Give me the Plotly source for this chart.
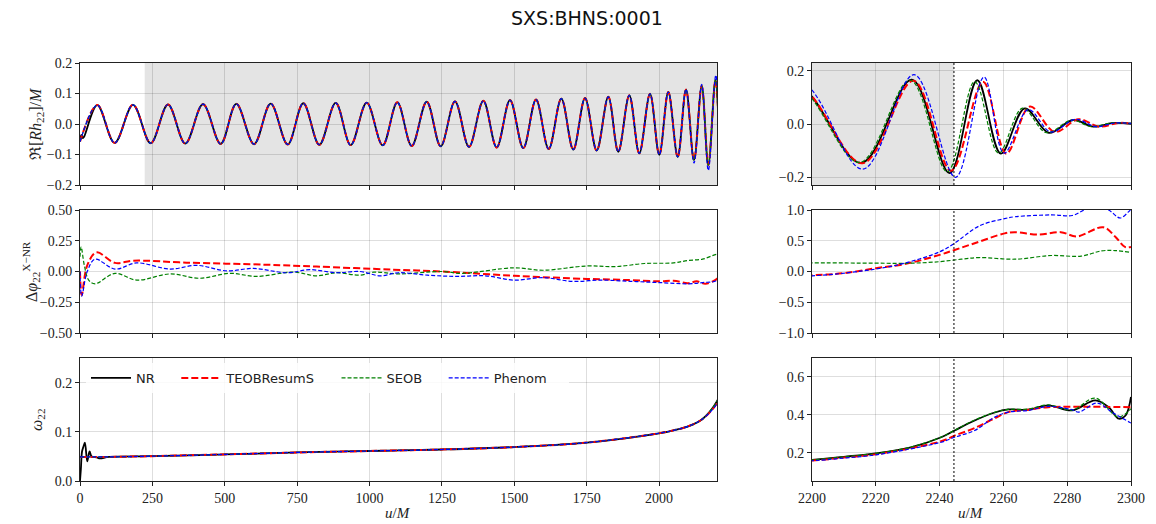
import plotly.graph_objects as go
from plotly.subplots import make_subplots

# ---------------- data ----------------
models = ["NR", "TEOBResumS", "SEOB", "Phenom"]
colors = ["black", "#ff0000", "#008000", "#0000ff"]

# inspiral waveform extrema (u/M, Re[R h22]/M), shared by all models
t_insp = [59.7, 119.8, 183.0, 244.2, 303.9, 363.7, 424.8, 485.9, 539.8, 601.0,
          658.6, 717.3, 771.2, 826.5, 883.1, 934.9, 990.2, 1045.4, 1095.9, 1145.6,
          1197.4, 1245.7, 1295.1, 1343.5, 1392.9, 1439.1, 1485.1, 1531.0, 1574.9, 1618.7,
          1662.3, 1703.7, 1744.2, 1784.5, 1824.6, 1859.1, 1897.1, 1931.6, 1968.6, 2000.7,
          2031.8, 2064.3, 2093.0, 2120.6, 2147.2, 2170.0]
h_insp = [0.062, -0.062, 0.063, -0.063, 0.064, -0.064, 0.065, -0.065, 0.066, -0.066,
          0.067, -0.067, 0.068, -0.068, 0.069, -0.069, 0.070, -0.070, 0.071, -0.072,
          0.073, -0.073, 0.074, -0.075, 0.076, -0.077, 0.078, -0.079, 0.080, -0.082,
          0.083, -0.084, 0.085, -0.087, 0.089, -0.091, 0.094, -0.096, 0.099, -0.101,
          0.105, -0.108, 0.113, -0.118, 0.125, -0.135]
h_insp_phenom = h_insp[:-4] + [0.114, -0.128, 0.130, -0.152]

# start of each waveform
t_start_nr = [0, 5, 10, 15]
h_start_nr = [-0.052, -0.036, -0.046, -0.040]
t_start_model = [0]
h_start_model = [-0.058]

# merger-ringdown extrema
t_mr = {
    "NR":         [2195, 2215.4, 2231.3, 2243.1, 2251.8, 2259.2, 2266.7, 2274.2, 2281.9, 2288.2, 2294.5, 2300],
    "TEOBResumS": [2195, 2215.8, 2231.8, 2243.6, 2253.6, 2260.9, 2268.3, 2276.1, 2283.5, 2290.0, 2296.0, 2300],
    "SEOB":       [2194.5, 2214.9, 2230.8, 2242.4, 2251.0, 2258.5, 2266.0, 2273.5, 2281.5, 2287.5, 2294.0, 2300],
    "Phenom":     [2196, 2215.9, 2232.0, 2245.0, 2253.9, 2260.2, 2267.8, 2274.9, 2282.5, 2289.0, 2295.0, 2300],
}
h_mr = {
    "NR":         [0.145, -0.147, 0.167, -0.185, 0.165, -0.112, 0.059, -0.033, 0.015, -0.010, 0.004, 0.001],
    "TEOBResumS": [0.145, -0.148, 0.163, -0.176, 0.159, -0.112, 0.066, -0.030, 0.018, -0.010, 0.004, 0.002],
    "SEOB":       [0.145, -0.145, 0.165, -0.180, 0.160, -0.110, 0.060, -0.033, 0.015, -0.010, 0.004, 0.002],
    "Phenom":     [0.160, -0.170, 0.186, -0.201, 0.177, -0.110, 0.054, -0.030, 0.018, -0.010, 0.004, 0.002],
}

# phase differences  Delta phi_22^{X-NR}
t_dphi_teob = [0, 6, 25, 57, 121, 184, 368, 645, 817, 1081, 1250, 1500, 1750, 1900, 2000, 2050,
               2100, 2130, 2160, 2200, 2210, 2220, 2229, 2240, 2244.7, 2251, 2260.4, 2263.5, 2271,
               2278, 2283, 2291.3, 2295, 2298.1, 2300]
dphi_teob = [0.0, -0.19, 0.05, 0.155, 0.07, 0.088, 0.072, 0.055, 0.04, 0.015, 0.0, -0.035, -0.06,
             -0.07, -0.08, -0.075, -0.095, -0.08, -0.1, -0.06, -0.027, 0.054, 0.12, 0.27, 0.35,
             0.46, 0.62, 0.64, 0.60, 0.64, 0.57, 0.72, 0.57, 0.40, 0.40]
t_dphi_seob = [0, 4, 15, 30, 52, 121, 196, 311, 414, 518, 610, 737, 817, 886, 967, 1015, 1100,
               1250, 1320, 1500, 1600, 1750, 1850, 1950, 2050, 2100, 2150, 2200, 2220, 2231, 2240,
               2246.8, 2252.4, 2263.6, 2275, 2284.4, 2290.7, 2295, 2300]
dphi_seob = [0.12, 0.2, 0.05, -0.07, -0.1, -0.015, -0.07, -0.02, -0.055, -0.015, -0.04, -0.005,
             -0.035, -0.01, -0.03, -0.005, -0.02, 0.0, -0.015, 0.03, 0.01, 0.045, 0.04, 0.065,
             0.07, 0.09, 0.1, 0.14, 0.135, 0.135, 0.16, 0.2, 0.227, 0.2, 0.26, 0.25, 0.335,
             0.34, 0.31]
t_dphi_phenom = [0, 6, 25, 52, 121, 196, 311, 403, 507, 599, 714, 794, 886, 967, 1036, 1100, 1200,
                 1300, 1400, 1500, 1600, 1700, 1800, 1900, 2000, 2100, 2150, 2200, 2220, 2229,
                 2240, 2244.7, 2252.4, 2260.4, 2263.6, 2275, 2281.6, 2285.3, 2289, 2293, 2296.6,
                 2299.2, 2300]
dphi_phenom = [0.0, -0.2, 0.0, 0.1, 0.02, 0.07, 0.02, 0.05, 0.005, 0.025, -0.01, 0.015, -0.01,
               0.0, -0.035, -0.01, -0.03, -0.04, -0.035, -0.07, -0.05, -0.08, -0.07, -0.08, -0.09,
               -0.1, -0.09, -0.07, 0.04, 0.135, 0.32, 0.46, 0.74, 0.86, 0.89, 0.92, 0.91, 1.0,
               1.07, 1.0, 0.87, 0.97, 1.01]

# frequency omega_22
t_om_insp = [100, 250, 500, 750, 1000, 1250, 1500, 1750, 2000, 2050, 2100, 2150]
om_insp = [0.049, 0.0505, 0.054, 0.058, 0.061, 0.064, 0.069, 0.078, 0.097, 0.103, 0.111, 0.126]
t_om_start_nr = [0, 3, 7, 12, 17, 25, 33, 40, 58, 69]
om_start_nr = [0.0, 0.024, 0.06, 0.07, 0.078, 0.04, 0.06, 0.05, 0.048, 0.046]
t_om_start_model = [0]
om_start_model = [0.049]
t_om_mr = {
    "NR": [2200, 2210, 2220, 2231, 2240.5, 2244.7, 2251, 2257.3, 2261.5, 2267.8, 2274.1, 2281.5,
           2288.8, 2293, 2296.2, 2298.3, 2300],
    "TEOBResumS": [2200, 2210, 2220, 2240.5, 2244.7, 2251, 2257.3, 2261.5, 2267.8, 2274.1, 2300],
    "SEOB": [2200, 2210, 2220, 2231, 2240.5, 2244.7, 2251, 2257.3, 2261.5, 2267.8, 2274.1, 2281.5,
             2288.8, 2296, 2300],
    "Phenom": [2200, 2210, 2220, 2240.5, 2244.7, 2251, 2257.3, 2261.5, 2267.8, 2274.1, 2281.5,
               2283.6, 2289.4, 2294, 2300],
}
om_mr = {
    "NR": [0.162, 0.178, 0.196, 0.228, 0.281, 0.317, 0.37, 0.412, 0.428, 0.427, 0.45, 0.423,
           0.476, 0.44, 0.379, 0.396, 0.494],
    "TEOBResumS": [0.158, 0.174, 0.191, 0.26, 0.29, 0.33, 0.382, 0.414, 0.427, 0.44, 0.44],
    "SEOB": [0.162, 0.178, 0.196, 0.229, 0.282, 0.318, 0.372, 0.413, 0.428, 0.43, 0.452, 0.425,
             0.488, 0.388, 0.432],
    "Phenom": [0.157, 0.171, 0.188, 0.255, 0.281, 0.317, 0.388, 0.414, 0.423, 0.444, 0.427,
               0.414, 0.462, 0.414, 0.356],
}

t_merger = 2244.5
t_window_start = 223.5

# ---------------- figure ----------------
fig = make_subplots(rows=3, cols=2)

styles = {
    "NR": dict(color="black", width=1.8),
    "TEOBResumS": dict(color="#ff0000", width=2, dash="7px,3px"),
    "SEOB": dict(color="#008000", width=1.2, dash="4px,2px"),
    "Phenom": dict(color="#0000ff", width=1.2, dash="4px,2px"),
}
pad = "\u00a0" * 4

for m in models:
    if m == "NR":
        t_w = t_start_nr + t_insp + t_mr[m]
        h_w = h_start_nr + h_insp + h_mr[m]
        t_o = t_om_start_nr + t_om_insp + t_om_mr[m]
        o_w = om_start_nr + om_insp + om_mr[m]
    else:
        t_w = t_start_model + t_insp + t_mr[m]
        h_w = h_start_model + (h_insp_phenom if m == "Phenom" else h_insp) + h_mr[m]
        t_o = t_om_start_model + t_om_insp + t_om_mr[m]
        o_w = om_start_model + om_insp + om_mr[m]
    for col in (1, 2):
        fig.add_trace(go.Scatter(x=t_w, y=h_w, mode="lines", line=styles[m], line_shape="spline",
                                 showlegend=False, hoverinfo="skip"), row=1, col=col)
        fig.add_trace(go.Scatter(x=t_o, y=o_w, mode="lines", line=styles[m], line_shape="spline",
                                 name=m + pad, showlegend=(col == 1), hoverinfo="skip"), row=3, col=col)

dphi = {"TEOBResumS": (t_dphi_teob, dphi_teob), "SEOB": (t_dphi_seob, dphi_seob),
        "Phenom": (t_dphi_phenom, dphi_phenom)}
for m in models[1:]:
    for col in (1, 2):
        fig.add_trace(go.Scatter(x=dphi[m][0], y=dphi[m][1], mode="lines", line=styles[m],
                                 line_shape="spline", showlegend=False, hoverinfo="skip"),
                      row=2, col=col)

# domains
xl = [80 / 1156, 717 / 1156]
xr = [812 / 1156, 1131 / 1156]
rows_y = [[1 - 185 / 524, 1 - 63 / 524], [1 - 333 / 524, 1 - 210 / 524], [1 - 481 / 524, 1 - 358 / 524]]

grid = "rgba(0,0,0,0.13)"
axcommon = dict(showline=True, mirror=True, linecolor="#222", linewidth=1, ticks="outside",
                ticklen=4, tickcolor="#222", showgrid=True, gridcolor=grid, gridwidth=1,
                zeroline=False, automargin=False, tickfont=dict(family="Liberation Serif", size=14, color="#222"))

yranges = [[-0.2, 0.2], [-0.23, 0.23], [-0.5, 0.5], [-1.0, 1.0], [0, 0.25], [0.05, 0.7]]
ydticks = [0.1, 0.2, 0.25, 0.5, 0.1, 0.2]
yfmt = [".1f", ".1f", ".2f", ".1f", ".1f", ".1f"]

for i in range(6):
    r = i // 2
    c = i % 2
    sfx = "" if i == 0 else str(i + 1)
    xa = dict(axcommon, domain=xl if c == 0 else xr, anchor="y" + sfx,
              range=[0, 2200] if c == 0 else [2200, 2300],
              dtick=250 if c == 0 else 20, tick0=0, showticklabels=(r == 2))
    ya = dict(axcommon, domain=rows_y[r], anchor="x" + sfx, range=yranges[i], dtick=ydticks[i],
              tick0=0, tickformat=yfmt[i])
    if i == 5:
        ya.pop("dtick")
        ya["tickvals"] = [0.2, 0.4, 0.6]
    fig.layout["xaxis" + sfx] = xa
    fig.layout["yaxis" + sfx] = ya

shapes = []
# shaded windows
shapes.append(dict(type="rect", xref="x", yref="y domain", x0=t_window_start, x1=2200, y0=0, y1=1,
                   fillcolor="#e4e4e4", line_width=0, layer="below"))
shapes.append(dict(type="rect", xref="x2", yref="y2 domain", x0=2200, x1=t_merger, y0=0, y1=1,
                   fillcolor="#e4e4e4", line_width=0, layer="below"))
for sfx in ("2", "4", "6"):
    shapes.append(dict(type="line", xref="x" + sfx, yref="y" + sfx + " domain", x0=t_merger,
                       x1=t_merger, y0=0, y1=1, line=dict(color="black", width=1, dash="2px,2px")))
fig.update_layout(shapes=shapes)

ann = [
    dict(text="SXS:BHNS:0001", x=587 / 1156, y=1 - 18 / 524, font=dict(family="DejaVu Sans", size=19, color="#111")),
    dict(text="ℜ[<i>Rh</i><sub>22</sub>]/<i>M</i>", x=36 / 1156, y=1 - 124 / 524, textangle=-90,
         font=dict(size=16)),
    dict(text="Δ<i>φ</i><sub>22</sub><sup>X−NR</sup>", x=31 / 1156, y=1 - 272 / 524, textangle=-90,
         font=dict(size=16)),
    dict(text="<i>ω</i><sub>22</sub>", x=37 / 1156, y=1 - 420 / 524, textangle=-90, font=dict(size=16)),
    dict(text="<i>u</i>/<i>M</i>", x=398 / 1156, y=1 - 513 / 524, font=dict(size=15)),
    dict(text="<i>u</i>/<i>M</i>", x=971 / 1156, y=1 - 513 / 524, font=dict(size=15)),
]
for a in ann:
    a.update(xref="paper", yref="paper", showarrow=False, xanchor="center", yanchor="middle")
fig.update_layout(annotations=ann)

fig.update_layout(
    template="none",
    width=1156, height=524, autosize=False,
    margin=dict(l=0, r=0, t=0, b=0),
    paper_bgcolor="white", plot_bgcolor="white",
    font=dict(family="Liberation Serif", size=14, color="#222"),
    legend=dict(orientation="h", x=86 / 1156, y=1 - 363 / 524, xanchor="left", yanchor="top",
                bgcolor="rgba(255,255,255,0.85)", font=dict(family="DejaVu Sans", size=13, color="#222"),
                itemwidth=40, tracegroupgap=0),
)

fig.write_html("out.html")
